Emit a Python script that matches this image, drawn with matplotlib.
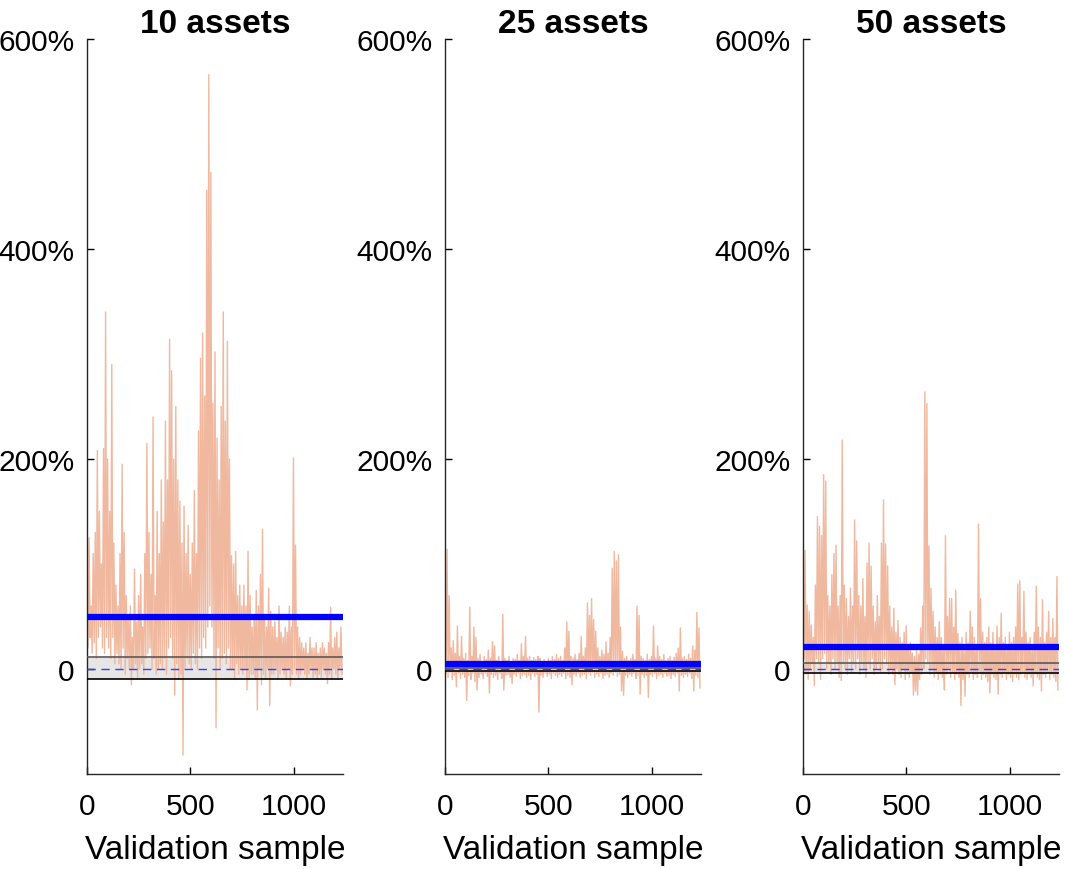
import numpy as np
import matplotlib
matplotlib.use('Agg')
import matplotlib.pyplot as plt

plt.rcParams['font.family'] = ['Liberation Sans', 'DejaVu Sans']

# number of validation samples per panel
n_amostras = 1237
titulos = ['10 assets', '25 assets', '50 assets']

# envelopes (%): maximo e minimo de cada bloco de ~10 amostras
hi_10 = [80, 125, 60, 110, 130, 208, 150, 100, 210, 340,
         200, 150, 290, 120, 80, 60, 110, 195, 130, 70,
         50, 60, 30, 95, 45, 70, 90, 40, 110, 215,
         130, 90, 240, 70, 150, 110, 180, 140, 236, 180,
         314, 284, 200, 250, 180, 160, 120, 155, 110, 137,
         90, 120, 170, 110, 227, 296, 320, 260, 456, 566,
         473, 253, 302, 220, 180, 250, 340, 236, 312, 200,
         108, 100, 112, 70, 80, 60, 80, 60, 112, 70,
         40, 50, 75, 60, 90, 133, 50, 40, 77, 55,
         40, 45, 30, 60, 35, 30, 40, 35, 60, 40,
         201, 118, 40, 30, 25, 20, 25, 15, 30, 20,
         20, 25, 15, 20, 25, 20, 15, 25, 59, 20,
         30, 35, 20, 40]
lo_10 = [20, 30, 15, 25, 10, 30, 40, 20, 15, 30,
         20, 10, 30, 5, 15, 5, 0, 20, -5, 10,
         0, -15, 0, 5, -10, 0, 5, -5, 10, 15,
         20, 0, 10, -5, 0, 5, 0, 10, -5, 20,
         30, 10, -25, 5, -10, -5, -82, 0, 10, 5,
         0, 15, 5, 0, 20, 10, 30, 20, 40, 60,
         40, 10, -56, 20, 0, 10, 15, 5, 20, 0,
         0, -10, 5, -5, 0, -5, 0, -20, -10, -5,
         -5, -10, -39, 0, -15, -5, -10, 0, -35, -5,
         -5, 0, -10, -5, 0, -5, -10, 0, -16, -5,
         0, -5, -10, -5, 0, -5, -10, -5, 0, -8,
         -5, -10, -5, -8, 0, -5, -14, -5, -10, 0,
         -5, -10, 0, -5]

hi_25 = [86, 114, 70, 20, 27, 15, 41, 12, 31, 10,
         15, 8, 59, 12, 40, 30, 10, 14, 6, 12,
         9, 18, 10, 26, 22, 8, 12, 7, 52, 10,
         8, 12, 6, 10, 9, 14, 8, 24, 12, 31,
         10, 12, 8, 11, 9, 12, 10, 7, 9, 6,
         10, 8, 12, 9, 14, 10, 12, 8, 20, 45,
         36, 12, 10, 14, 9, 15, 31, 12, 20, 63,
         51, 67, 47, 36, 20, 12, 18, 14, 26, 15,
         30, 96, 112, 103, 109, 40, 17, 10, 12, 8,
         10, 14, 9, 60, 51, 12, 10, 8, 14, 9,
         12, 41, 10, 22, 12, 9, 14, 8, 10, 12,
         8, 11, 15, 20, 39, 10, 12, 9, 14, 10,
         22, 18, 54, 39]
lo_25 = [-5, -8, -3, -10, -6, -17, -4, -9, -5, -8,
         -30, -6, -10, -4, -12, -20, -8, -5, -9, -4,
         -7, -23, -5, -8, -6, -10, -4, -9, -20, -6,
         -5, -8, -14, -5, -7, -4, -9, -6, -5, -8,
         -6, -10, -4, -7, -5, -41, -6, -8, -4, -7,
         -5, -9, -4, -6, -8, -5, -7, -4, -9, -6,
         -8, -15, -5, -7, -4, -8, -6, -5, -9, -4,
         -6, -3, -8, -5, -7, -4, -9, -6, -5, -8,
         -4, -6, -3, -7, -5, -21, -25, -6, -8, -5,
         -7, -4, -9, -6, -24, -5, -8, -6, -27, -5,
         -7, -4, -9, -6, -5, -8, -4, -7, -6, -9,
         -5, -7, -4, -21, -6, -8, -5, -7, -4, -9,
         -21, -6, -8, -18]

hi_50 = [77, 113, 61, 55, 42, 30, 80, 145, 136, 127,
         185, 179, 70, 60, 90, 110, 118, 60, 70, 218,
         80, 67, 50, 77, 60, 142, 122, 70, 60, 86,
         50, 101, 120, 98, 60, 45, 70, 50, 120, 161,
         119, 98, 60, 40, 58, 35, 46, 30, 25, 35,
         41, 20, 25, 15, 12, 18, 14, 39, 60, 264,
         253, 117, 77, 55, 40, 30, 45, 30, 20, 127,
         50, 67, 67, 40, 75, 34, 25, 30, 20, 35,
         25, 55, 40, 30, 20, 138, 67, 35, 25, 30,
         40, 25, 35, 20, 41, 30, 53, 25, 30, 20,
         35, 25, 30, 40, 81, 84, 30, 74, 35, 25,
         30, 20, 35, 79, 40, 30, 66, 25, 35, 55,
         30, 48, 30, 88]
lo_50 = [10, -5, -10, 0, 5, -16, 10, 5, -10, 10,
         15, 0, 5, -5, 10, 0, 5, -8, -11, 5,
         0, -5, 10, -3, 5, 0, 10, -5, 5, 0,
         -8, 5, 0, 10, -5, 0, 5, -3, 0, 10,
         5, -5, 0, -5, -15, 0, -5, -8, 0, -10,
         -5, -8, -3, -25, -21, -25, -10, -5, 0, 10,
         5, -5, 0, -8, -3, -10, -5, -8, -20, -5,
         0, -8, -3, -10, -5, -8, -35, -10, -26, -5,
         -8, -3, -10, -5, -8, -3, -10, -5, -8, -12,
         -23, -5, -8, -10, -24, -5, -8, -3, -10, -5,
         -8, -12, -5, -8, -10, -5, -3, -8, -10, -5,
         -8, -16, -5, -8, -10, -21, -5, -8, -3, -10,
         -5, -8, -12, -20]

# media (linha azul) e faixa cinza em torno de zero (%)
medias = [49.4, 4.7, 20.9]
faixa_sup = [11.4, 1.0, 5.7]
faixa_inf = [-9.8, -1.5, -3.8]

series = [(hi_10, lo_10), (hi_25, lo_25), (hi_50, lo_50)]

fig = plt.figure(figsize=(10.65, 8.7), dpi=100)
lefts = [87, 445, 803]

for i, (hi, lo) in enumerate(series):
    ax = fig.add_axes([lefts[i] / 1065, 95 / 870, 256 / 1065, 735 / 870])
    y = np.column_stack([hi, lo]).ravel()
    x = np.arange(len(y)) * n_amostras / len(y)

    ax.axhspan(faixa_inf[i], faixa_sup[i], color='#e6e6e6', zorder=1, lw=0)
    ax.plot(x, y, color='#f0b89e', lw=1.0, zorder=2)
    ax.axhline(faixa_sup[i], color='0.35', lw=1.2, zorder=3)
    ax.axhline(faixa_inf[i], color='k', lw=1.2, zorder=3)
    ax.axhline(0, color='#3a3aff', lw=1.0, ls=(0, (6, 4)), zorder=3)
    ax.axhline(medias[i], color='#0000ff', lw=4.5, zorder=4)

    ax.set_xlim(0, n_amostras)
    ax.set_ylim(-100, 600)
    ax.set_yticks([0, 200, 400, 600])
    ax.set_yticklabels(['0', '200%', '400%', '600%'])
    ax.set_xticks([0, 500, 1000])
    ax.tick_params(direction='in', length=5, width=1, labelsize=21.5, pad=9)
    ax.tick_params(axis='x', pad=13)
    for s in ['top', 'right']:
        ax.spines[s].set_visible(False)
    for s in ['left', 'bottom']:
        ax.spines[s].set_color('0.15')
        ax.spines[s].set_linewidth(1)
    ax.set_title(titulos[i], fontsize=24, fontweight='bold', pad=4)
    ax.set_xlabel('Validation sample', fontsize=24, labelpad=10)

fig.savefig('out.png', dpi=100)
